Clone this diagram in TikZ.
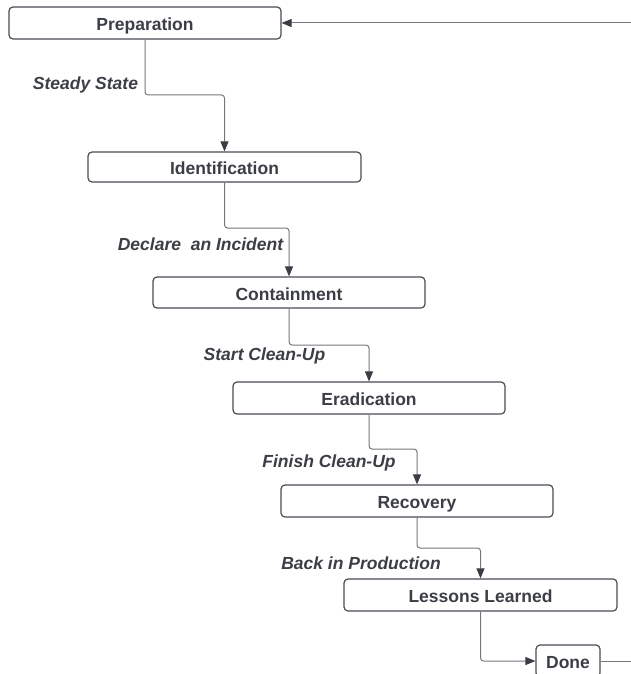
\documentclass[tikz,border=0pt]{standalone}
\usepackage{fontspec}
\setmainfont{Liberation Sans}
\usetikzlibrary{arrows.meta}
\definecolor{txt}{HTML}{3C3E46}
\definecolor{boxline}{HTML}{4A4C53}
\definecolor{conline}{HTML}{75777E}
\definecolor{tipc}{HTML}{3B3D44}
\tikzset{
  stepbox/.style={draw=boxline, line width=1.2pt, rounded corners=4pt, fill=white,
    minimum height=31pt, inner sep=0pt, text=txt, text height=15.5pt, text depth=0pt,
    font=\fontsize{17.5}{20}\selectfont\bfseries},
  lbl/.style={text=txt, inner sep=0pt, font=\fontsize{17.5}{20}\selectfont\bfseries\itshape},
  conn/.style={draw=conline, line width=1pt, rounded corners=3pt,
    -{Triangle[length=10pt,width=8pt,fill=tipc,color=tipc]}},
  plain/.style={draw=conline, line width=1pt}
}
\begin{document}
\begin{tikzpicture}[x=1pt,y=-1pt]
\useasboundingbox (0,0) rectangle (630,674);
\node[stepbox, minimum width=272pt, minimum height=32pt] (prep) at (145,23) {Preparation};
\node[stepbox, minimum width=273pt, minimum height=30pt] (ident) at (224.5,167) {Identification};
\node[stepbox, minimum width=272pt] (cont) at (289,292.5) {Containment};
\node[stepbox, minimum width=272pt, minimum height=32pt] (erad) at (369,398) {Eradication};
\node[stepbox, minimum width=272pt, minimum height=32pt] (rec) at (417,501) {Recovery};
\node[stepbox, minimum width=273pt, minimum height=32pt] (les) at (480.5,595) {Lessons Learned};
\node[stepbox, minimum width=64pt, minimum height=32pt] (done) at (568,661) {Done};
\coordinate (rin) at (631,23);
\coordinate (rout) at (631,661);
% connectors
\draw[conn] (rin) -- (prep.east);
\draw[conn] (prep.south) |- (224.5,95) -- (ident.north);
\draw[conn] (ident.south) |- (289,228) -- (cont.north);
\draw[conn] (cont.south) |- (369,345) -- (erad.north);
\draw[conn] (erad.south) |- (417,449) -- (rec.north);
\draw[conn] (rec.south) |- (480.5,548) -- (les.north);
\draw[conn] (les.south) |- (done.west);
\draw[plain] (done.east) -- (rout);
% labels
\node[lbl] (l1) at (85.5,85) {Steady State};
\node[lbl] (l2) at (200.5,244) {Declare\ \ an Incident};
\node[lbl] (l3) at (264.5,356) {Start Clean-Up};
\node[lbl] (l4) at (329,463) {Finish Clean-Up};
\node[lbl] (l5) at (361,563) {Back in Production};
\end{tikzpicture}
\end{document}
